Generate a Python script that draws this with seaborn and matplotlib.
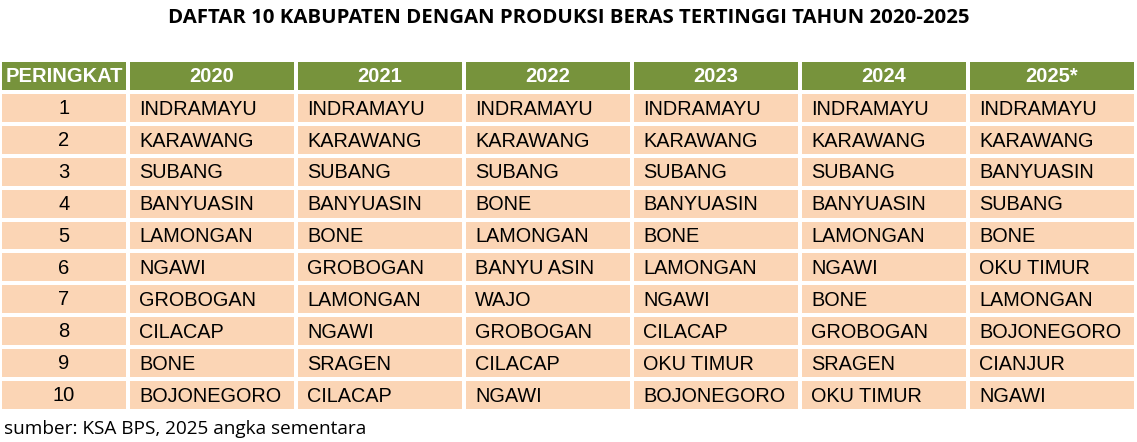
import numpy as np
import matplotlib
matplotlib.use("Agg")
import matplotlib.pyplot as plt
from matplotlib.colors import ListedColormap
import seaborn as sns

# data
judul = "DAFTAR 10 KABUPATEN DENGAN PRODUKSI BERAS TERTINGGI TAHUN 2020-2025"
sumber = "sumber: KSA BPS, 2025 angka sementara"
kolom_peringkat = "PERINGKAT"
tahun = ["2020", "2021", "2022", "2023", "2024", "2025*"]
peringkat = [1, 2, 3, 4, 5, 6, 7, 8, 9, 10]

kab_2020 = ["INDRAMAYU", "KARAWANG", "SUBANG", "BANYUASIN", "LAMONGAN",
            "NGAWI", "GROBOGAN", "CILACAP", "BONE", "BOJONEGORO"]
kab_2021 = ["INDRAMAYU", "KARAWANG", "SUBANG", "BANYUASIN", "BONE",
            "GROBOGAN", "LAMONGAN", "NGAWI", "SRAGEN", "CILACAP"]
kab_2022 = ["INDRAMAYU", "KARAWANG", "SUBANG", "BONE", "LAMONGAN",
            "BANYU ASIN", "WAJO", "GROBOGAN", "CILACAP", "NGAWI"]
kab_2023 = ["INDRAMAYU", "KARAWANG", "SUBANG", "BANYUASIN", "BONE",
            "LAMONGAN", "NGAWI", "CILACAP", "OKU TIMUR", "BOJONEGORO"]
kab_2024 = ["INDRAMAYU", "KARAWANG", "SUBANG", "BANYUASIN", "LAMONGAN",
            "NGAWI", "BONE", "GROBOGAN", "SRAGEN", "OKU TIMUR"]
kab_2025 = ["INDRAMAYU", "KARAWANG", "BANYUASIN", "SUBANG", "BONE",
            "OKU TIMUR", "LAMONGAN", "BOJONEGORO", "CIANJUR", "NGAWI"]

semua_kab = [kab_2020, kab_2021, kab_2022, kab_2023, kab_2024, kab_2025]

HIJAU = "#77933C"
PEACH = "#FBD5B5"
cmap = ListedColormap([PEACH, HIJAU])
FONT = "Liberation Sans"

W, H = 1137, 442
fig = plt.figure(figsize=(W / 100, H / 100), dpi=100)

def px_axes(x0, y0, x1, y1):
    # kotak dalam piksel (y dari atas)
    return fig.add_axes([x0 / W, 1 - y1 / H, (x1 - x0) / W, (y1 - y0) / H])

n_baris = len(peringkat) + 1
warna_rank = np.zeros((n_baris, 1))
warna_rank[0, :] = 1
warna_tahun = np.zeros((n_baris, len(tahun)))
warna_tahun[0, :] = 1

top, bottom = 60, 411
ax_rank = px_axes(0, top, 128, bottom)
ax_thn = px_axes(128, top, 1136, bottom)

for ax, nilai in [(ax_rank, warna_rank), (ax_thn, warna_tahun)]:
    sns.heatmap(nilai, ax=ax, cmap=cmap, vmin=0, vmax=1, cbar=False,
                linewidths=1.6, linecolor="white", xticklabels=False,
                yticklabels=False)
    ax.set_axis_off()

# kolom peringkat
ax_rank.text(0.5, 0.52, kolom_peringkat, ha="center", va="center",
             color="white", fontsize=14.5, fontweight="bold", family=FONT)
for i, r in enumerate(peringkat):
    ax_rank.text(0.5, i + 1.52, str(r), ha="center", va="center",
                 color="black", fontsize=14.5, family=FONT)

# kolom tahun
for j, t in enumerate(tahun):
    ax_thn.text(j + 0.5, 0.52, t, ha="center", va="center", color="white",
                fontsize=14.5, fontweight="bold", family=FONT)
    for i, nama in enumerate(semua_kab[j]):
        ax_thn.text(j + 0.065, i + 1.54, nama, ha="left", va="center",
                    color="black", fontsize=14.3, family=FONT)

fig.text(569 / W, 1 - 18 / H, judul, ha="center", va="center",
         fontsize=14.7, fontweight="bold", family="Open Sans")
fig.text(4 / W, 1 - 429 / H, sumber, ha="left", va="center",
         fontsize=13.7, family="Open Sans")

fig.savefig("out.png", dpi=100, facecolor="white")
